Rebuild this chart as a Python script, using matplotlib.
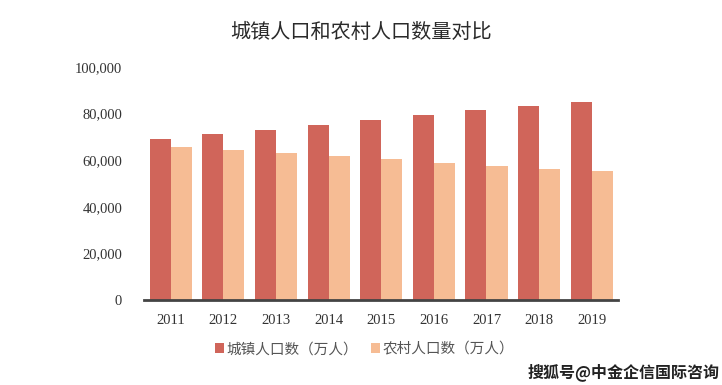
import numpy as np
import matplotlib
matplotlib.use("Agg")
import matplotlib.pyplot as plt
from matplotlib.ticker import FuncFormatter

years = ["2011", "2012", "2013", "2014", "2015", "2016", "2017", "2018", "2019"]
urban = [69079, 71182, 73111, 74916, 77116, 79298, 81347, 83137, 84843]
rural = [65656, 64222, 62961, 61866, 60346, 58973, 57661, 56401, 55162]
labels = ["城镇人口数（万人）", "农村人口数（万人）"]

plt.rcParams["font.family"] = ["Noto Sans CJK SC", "DejaVu Sans"]

fig = plt.figure(figsize=(7.22, 3.85), dpi=100)
ax = fig.add_axes([0.2, 0.221, 0.656, 0.605])

x = np.arange(len(years))
w = 0.4
ax.bar(x - w / 2, urban, w, color="#D0655A", label=labels[0])
ax.bar(x + w / 2, rural, w, color="#F6BC94", label=labels[1])

ax.set_xlim(-0.5, len(years) - 0.5)
ax.set_ylim(0, 100000)
ax.set_yticks(range(0, 100001, 20000))
ax.yaxis.set_major_formatter(FuncFormatter(lambda v, p: f"{int(v):,}"))
ax.set_xticks(x)
ax.set_xticklabels(years)
for lab in ax.get_xticklabels() + ax.get_yticklabels():
    lab.set_fontfamily("Liberation Serif")
    lab.set_fontsize(10.5)
    lab.set_color("#333333")
ax.tick_params(length=0)
ax.tick_params(axis="x", pad=10)
ax.tick_params(axis="y", pad=16)

for s in ["top", "right", "left"]:
    ax.spines[s].set_visible(False)
ax.spines["bottom"].set_color("#444444")
ax.spines["bottom"].set_linewidth(2)

fig.text(0.5, 0.915, "城镇人口和农村人口数量对比", ha="center", va="center",
         fontsize=14.5, color="#2a2a2a")

fig.legend(loc="center", bbox_to_anchor=(0.505, 0.093), ncol=2, frameon=False,
           fontsize=10.5, handlelength=0.6, handleheight=0.6, handletextpad=0.2,
           columnspacing=0.9, labelcolor="#555555")

fig.text(0.997, 0.033, "搜狐号@中金企信国际咨询", ha="right", va="center",
         fontsize=11.5, fontweight="bold", color="#222222")

fig.savefig("out.png", dpi=100)
